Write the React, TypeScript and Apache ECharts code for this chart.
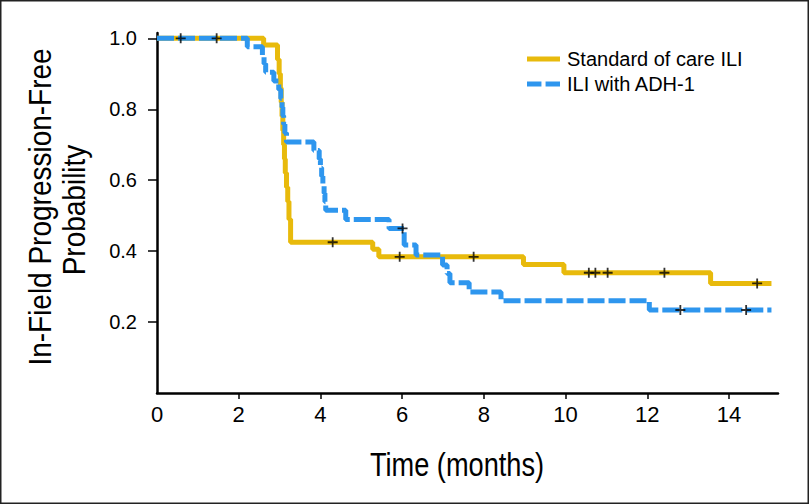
import React, { useEffect, useRef } from "react";
import * as echarts from "echarts";

// Kaplan-Meier step data (time in months, survival probability)
const stdTimes = [0, 2.61, 2.95, 2.99, 3.02, 3.04, 3.06, 3.08, 3.1, 3.12, 3.14, 3.17, 3.2, 3.23, 3.27, 5.28, 5.43, 8.97, 9.96, 13.55, 15.04];
const stdSurv = [1, 0.981, 0.94, 0.9, 0.86, 0.82, 0.78, 0.74, 0.7, 0.66, 0.62, 0.58, 0.54, 0.49, 0.425, 0.405, 0.384, 0.362, 0.339, 0.309, 0.309];

const adhTimes = [0, 2.21, 2.58, 2.62, 2.66, 2.86, 2.98, 3.03, 3.06, 3.08, 3.1, 3.13, 3.17, 3.84, 3.97, 4.0, 4.03, 4.06, 4.09, 4.11, 4.13, 4.62, 5.68, 6.05, 6.34, 6.99, 7.1, 7.17, 7.64, 8.42, 12.05, 15.04];
const adhSurv = [1, 0.976, 0.952, 0.928, 0.904, 0.88, 0.856, 0.83, 0.806, 0.782, 0.758, 0.733, 0.708, 0.684, 0.66, 0.635, 0.611, 0.587, 0.563, 0.539, 0.515, 0.489, 0.464, 0.417, 0.389, 0.361, 0.337, 0.311, 0.285, 0.26, 0.234, 0.234];

const stdCensorTimes = [4.3, 5.94, 7.75, 10.57, 10.73, 11.03, 12.42, 14.69];
const stdCensorSurv = [0.425, 0.384, 0.384, 0.339, 0.339, 0.339, 0.339, 0.309];
const adhCensorTimes = [0.58, 1.46, 6.01, 12.81, 14.42];
const adhCensorSurv = [1, 1, 0.464, 0.234, 0.234];

const xTickLabels = [0, 2, 4, 6, 8, 10, 12, 14];
const yTickLabels = [0.2, 0.4, 0.6, 0.8, 1.0];

const seriesNames = ["Standard of care ILI", "ILI with ADH-1"];
const xTitle = "Time (months)";
const yTitleLines = ["In-Field Progression-Free", "Probability"];

const YELLOW = "#E8BA0C";
const BLUE = "#2E96EE";
const FONT = "'Liberation Sans', Arial, Helvetica, sans-serif";

const zip = (a: number[], b: number[]) => a.map((v, i) => [v, b[i]]);

export default function App() {
  const ref = useRef<HTMLDivElement>(null);
  useEffect(() => {
    if (!ref.current) return;
    const chart = echarts.init(ref.current, undefined, { renderer: "svg" });
    const plus = "path://M0,5L10,5M5,0L5,10";
    chart.setOption({
      animation: false,
      textStyle: { fontFamily: FONT },
      grid: { left: 157, right: 31, top: 33, bottom: 111 },
      legend: {
        orient: "vertical",
        left: 522,
        top: 44,
        itemWidth: 33,
        itemHeight: 5,
        itemGap: 5,
        symbolKeepAspect: false,
        data: [
          { name: seriesNames[0], icon: "path://M0,0H32V5H0Z", itemStyle: { color: YELLOW } },
          { name: seriesNames[1], icon: "path://M0,0H14V5H0ZM18,0H32V5H18Z", itemStyle: { color: BLUE } },
        ],
        textStyle: { fontSize: 20, color: "#000", lineHeight: 20, padding: [0, 0, 0, 2] },
      },
      xAxis: {
        type: "value",
        min: 0,
        max: 15.2,
        interval: 2,
        splitLine: { show: false },
        axisLine: { lineStyle: { color: "#000", width: 2.5 } },
        axisTick: { show: true, length: 6, lineStyle: { color: "#000", width: 1.5 }, customValues: xTickLabels.filter((v) => v > 0) },
        axisLabel: {
          fontSize: 22,
          color: "#000",
          margin: 10,
          customValues: xTickLabels,
          formatter: (v: number) => (xTickLabels.includes(v) ? String(v) : ""),
        },
      },
      yAxis: {
        type: "value",
        min: 0,
        max: 1.015,
        interval: 0.2,
        splitLine: { show: false },
        axisLine: { show: true, lineStyle: { color: "#000", width: 2.5 } },
        axisTick: { show: true, length: 9, lineStyle: { color: "#000", width: 1.5 }, customValues: yTickLabels },
        axisLabel: {
          fontSize: 20,
          color: "#000",
          margin: 20,
          customValues: yTickLabels,
          formatter: (v: number) => (v > 0.05 && v < 1.01 ? v.toFixed(1) : ""),
        },
      },
      series: [
        {
          name: seriesNames[0],
          type: "line",
          step: "end",
          symbol: "none",
          data: zip(stdTimes, stdSurv),
          lineStyle: { color: YELLOW, width: 5 },
          itemStyle: { color: YELLOW },
          z: 2,
        },
        {
          name: seriesNames[1],
          type: "line",
          step: "end",
          symbol: "none",
          data: zip(adhTimes, adhSurv),
          lineStyle: { color: BLUE, width: 5, type: [17, 4] },
          itemStyle: { color: BLUE },
          z: 3,
        },
        {
          name: "censor-std",
          type: "scatter",
          symbol: plus,
          symbolSize: 10,
          data: zip(stdCensorTimes, stdCensorSurv),
          itemStyle: { color: "transparent", borderColor: "#000", borderWidth: 1.8 },
          z: 5,
        },
        {
          name: "censor-adh",
          type: "scatter",
          symbol: plus,
          symbolSize: 10,
          data: zip(adhCensorTimes, adhCensorSurv),
          itemStyle: { color: "transparent", borderColor: "#000", borderWidth: 1.8 },
          z: 5,
        },
      ],
      graphic: [
        {
          type: "rect",
          shape: { x: 0.75, y: 0.75, width: 807.5, height: 502.5 },
          style: { fill: "none", stroke: "#222", lineWidth: 1.5 },
          silent: true,
        },
        {
          type: "text",
          x: 457,
          y: 464,
          scaleX: 0.8,
          style: { text: xTitle, font: `34px ${FONT}`, fill: "#000", textAlign: "center", textVerticalAlign: "middle" },
        },
        {
          type: "text",
          x: 40,
          y: 207,
          rotation: Math.PI / 2,
          scaleX: 0.875,
          style: { text: yTitleLines[0], font: `32px ${FONT}`, fill: "#000", textAlign: "center", textVerticalAlign: "middle" },
        },
        {
          type: "text",
          x: 74,
          y: 210,
          rotation: Math.PI / 2,
          scaleX: 0.875,
          style: { text: yTitleLines[1], font: `32px ${FONT}`, fill: "#000", textAlign: "center", textVerticalAlign: "middle" },
        },
      ],
    });
    return () => chart.dispose();
  }, []);
  return <div ref={ref} style={{ position: "fixed", left: 0, top: 0, width: 809, height: 504, background: "#fff" }} />;
}
